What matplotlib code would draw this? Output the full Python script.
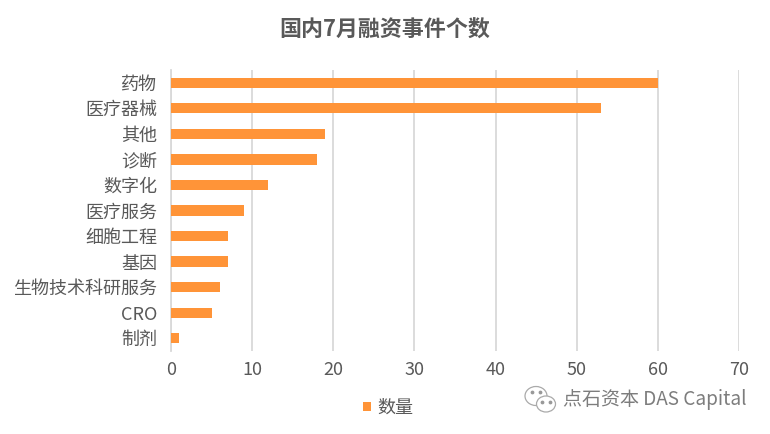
import matplotlib
matplotlib.use("Agg")
import matplotlib.pyplot as plt
from matplotlib.patches import Ellipse

categories = ["药物", "医疗器械", "其他", "诊断", "数字化", "医疗服务", "细胞工程", "基因", "生物技术科研服务", "CRO", "制剂"]
counts = [60, 53, 19, 18, 12, 9, 7, 7, 6, 5, 1]
xticks = [0, 10, 20, 30, 40, 50, 60, 70]

plt.rcParams["font.family"] = ["Noto Sans CJK SC", "DejaVu Sans"]
text_color = "#595959"

fig = plt.figure(figsize=(7.7, 4.34), dpi=100)
ax = fig.add_axes([171 / 770, 1 - 351 / 434, (739 - 171) / 770, (351 - 70) / 434])

ax.barh(categories, counts, height=0.4, color="#ff9438", zorder=3, label="数量")
ax.set_xlim(0, 70)
ax.set_ylim(len(categories) - 0.5, -0.5)
ax.set_xticks(xticks)
ax.grid(axis="x", color="#d9d9d9", linewidth=1.3, zorder=0)
for side in ["top", "right", "bottom"]:
    ax.spines[side].set_visible(False)
ax.spines["left"].set_color("#d9d9d9")
ax.spines["left"].set_linewidth(1.3)
ax.tick_params(axis="both", length=0, labelsize=13, labelcolor=text_color)
ax.tick_params(axis="x", pad=7)
ax.tick_params(axis="y", pad=10)

fig.text(385 / 770, 1 - 30 / 434, "国内7月融资事件个数", ha="center", va="center",
         fontsize=15.8, fontweight="bold", color=text_color)

handles, labels = ax.get_legend_handles_labels()
fig.legend(handles, labels, loc="center", bbox_to_anchor=(388 / 770, 1 - 408 / 434), frameon=False,
           fontsize=13, labelcolor=text_color, handlelength=0.45, handleheight=0.45, handletextpad=0.35)

# watermark
fig.text(563 / 770, 1 - 399 / 434, "点石资本 DAS Capital", ha="left", va="center",
         fontsize=13.7, color="#666666", alpha=0.85)

# wechat icon, in pixel coordinates
icon = fig.add_axes([0, 0, 1, 1], facecolor="none")
icon.set_xlim(0, 770)
icon.set_ylim(434, 0)
icon.axis("off")
icon.add_patch(Ellipse((536, 396), 22, 19, fill=False, edgecolor="#aaaaaa", linewidth=0.9))
icon.add_patch(Ellipse((546, 404), 19, 16, facecolor="white", edgecolor="#aaaaaa", linewidth=0.9, zorder=3))
icon.scatter([532, 540, 542, 550], [392, 392, 402, 402], s=3, color="#999999", zorder=4)

fig.savefig("out.png", dpi=100)
